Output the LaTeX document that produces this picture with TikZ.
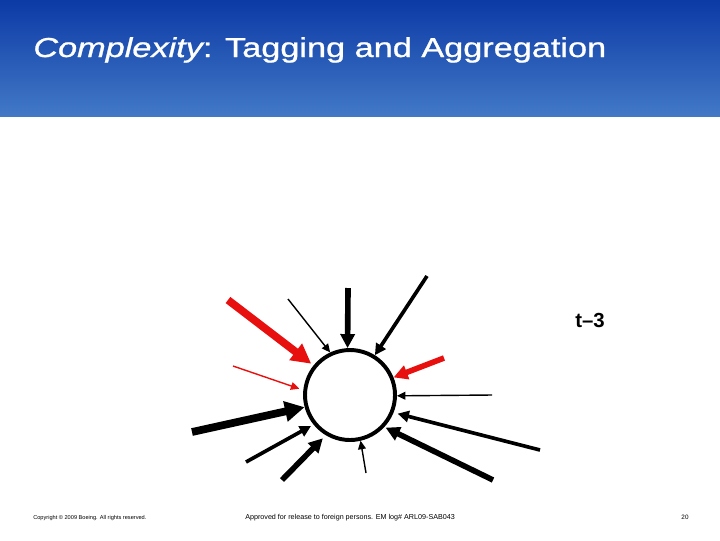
\documentclass[tikz,border=0pt]{standalone}
\usepackage{fontspec}
\setmainfont{Liberation Sans}
\usetikzlibrary{arrows.meta}

\definecolor{bandtop}{RGB}{12,58,166}
\definecolor{bandbot}{RGB}{66,121,198}
\definecolor{tagred}{RGB}{232,16,15}

\tikzset{
    thinarr/.style={line width=1pt, -{Triangle[length=6pt,width=5.5pt]}},
    medarr/.style={line width=2.6pt, -{Triangle[length=8pt,width=8pt]}},
    thickarr/.style={line width=4pt, -{Triangle[length=10pt,width=10pt]}},
    heavyarr/.style={line width=5.5pt, -{Triangle[length=14pt,width=14pt]}},
    slidetext/.style={inner sep=0pt},
}

\begin{document}
\begin{tikzpicture}[x=0.025cm, y=-0.025cm]
        \useasboundingbox (0,0) rectangle (720,540);

        \shade[top color=bandtop, bottom color=bandbot] (0,0) rectangle (720,116);
        \node (title) at (33,57)[slidetext, anchor=base west, xscale=1.25, text=white, font=\fontsize{19.5}{23}\selectfont\addfontfeatures{FakeBold=0.8}] {\itshape Complexity\upshape: Tagging and Aggregation};

        \node (hub) at (350,395)[circle, draw, line width=2.8pt, minimum size=90*0.025cm] {};
        \node (lag) at (590,320) {\fontsize{14.5}{17}\selectfont\bfseries t--3};

        \coordinate (s1) at (228,300);
        \coordinate (s2) at (288,299);
        \coordinate (s3) at (348,288);
        \coordinate (s4) at (427,276);
        \coordinate (s5) at (444,358);
        \coordinate (s6) at (492,395);
        \coordinate (s7) at (540,450);
        \coordinate (s8) at (493,480);
        \coordinate (s9) at (366,473);
        \coordinate (s10) at (282,480);
        \coordinate (s11) at (246,462);
        \coordinate (s12) at (192,432);
        \coordinate (s13) at (233,366);

        \draw[heavyarr, tagred, shorten >=2pt] (s1) -- (hub.141);
        \draw[thinarr] (s2) -- (hub.115);
        \draw[thickarr] (s3) -- (hub.93);
        \draw[medarr] (s4) -- (hub.58);
        \draw[thickarr, tagred] (s5) -- (hub.22);
        \draw[thinarr] (s6) -- (hub.-1);
        \draw[medarr, shorten >=3pt] (s7) -- (hub.-22);
        \draw[thickarr, shorten >=1pt] (s8) -- (hub.-43);
        \draw[thinarr] (s9) -- (hub.-77);
        \draw[thickarr, shorten >=3pt] (s10) -- (hub.-121);
        \draw[medarr, shorten >=2pt] (s11) -- (hub.-141);
        \draw[heavyarr] (s12) -- (hub.-165);
        \draw[thinarr, tagred, shorten >=3pt] (s13) -- (hub.174);

        \node (copy) at (33,518)[slidetext, anchor=west, font=\fontsize{4}{5}\selectfont] {Copyright © 2009 Boeing. All rights reserved.};
        \node (release) at (245,518)[slidetext, anchor=west, font=\fontsize{5.1}{6}\selectfont] {Approved for release to foreign persons. EM log\# ARL09-SAB043};
        \node (page) at (685,517)[font=\fontsize{4.5}{5}\selectfont] {20};
    \end{tikzpicture}
\end{document}
